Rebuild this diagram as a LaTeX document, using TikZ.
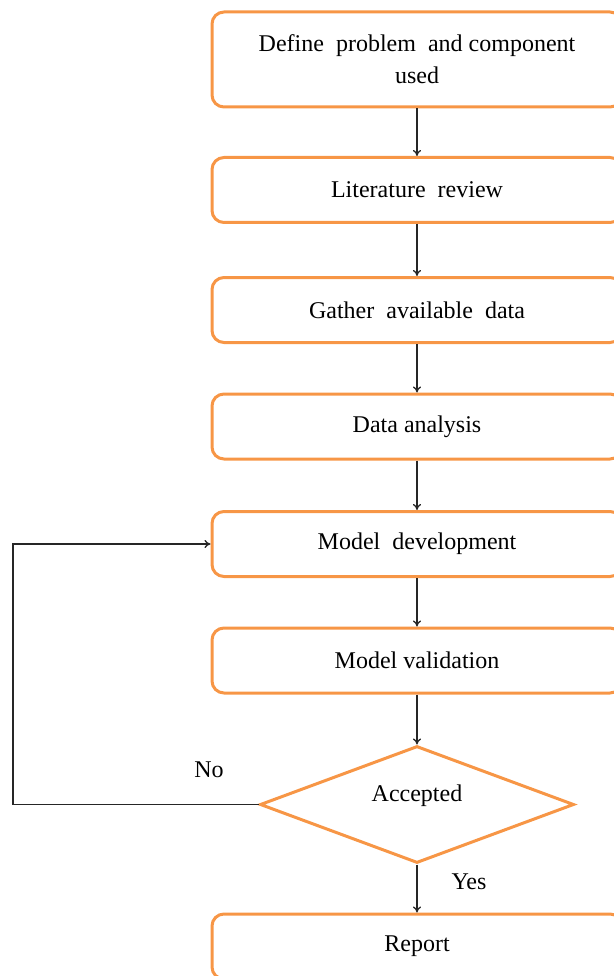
\documentclass[tikz,border=0pt]{standalone}
\usepackage{fontspec}
\setmainfont{Liberation Serif}
\usetikzlibrary{shapes.geometric,arrows.meta}
\definecolor{boxorange}{HTML}{F79646}
\tikzset{
  stepbox/.style={draw=boxorange, line width=3pt, rounded corners=12pt, minimum width=410pt, inner sep=0pt, align=center, font=\fontsize{24}{32}\selectfont},
  decbox/.style={draw=boxorange, line width=3pt, diamond, minimum width=314pt, minimum height=117pt, inner sep=0pt},
  lbl/.style={font=\fontsize{24}{32}\selectfont, inner sep=0pt},
  conn/.style={line width=1.3pt, draw=black!85, -{To[length=6pt,width=8pt]}},
  connplain/.style={line width=1.3pt, draw=black!85}
}
\begin{document}
\begin{tikzpicture}[x=1pt,y=-1pt]
\useasboundingbox (0,0) rectangle (613,976);
\node[stepbox, minimum height=95pt] (b1) at (417,59.5) {Define\ \ problem\ \ and component\\used};
\node[stepbox, minimum height=65pt] (b2) at (417,190) {Literature\ \ review};
\node[stepbox, minimum height=65pt] (b3) at (417,310) {Gather\ \ available\ \ data};
\node[stepbox, minimum height=65pt] (b4) at (417,426.5) {Data analysis};
\node[stepbox, minimum height=65pt] (b5) at (417,544) {Model\ \ development};
\node[stepbox, minimum height=65pt] (b6) at (417,660.5) {Model validation};
\node[decbox] (dec) at (417,804.5) {};
\node[lbl] (acc) at (417,796) {Accepted};
\node[stepbox, minimum height=65pt] (b7) at (417,946.5) {Report};
\node[lbl] (no) at (209,770) {No};
\node[lbl] (yes) at (469,882) {Yes};
\coordinate (c1) at (13,804.5);
\coordinate (c2) at (13,544);
\draw[conn] (b1.south) -- (b2.north);
\draw[conn] (b2.south) -- (b3.north);
\draw[conn] (b3.south) -- (b4.north);
\draw[conn] (b4.south) -- (b5.north);
\draw[conn] (b5.south) -- (b6.north);
\draw[conn] (b6.south) -- (dec.north);
\draw[conn] (dec.south) -- (b7.north);
\draw[conn] (dec.west) -- (c1) -- (c2) -- (b5.west);
\end{tikzpicture}
\end{document}
